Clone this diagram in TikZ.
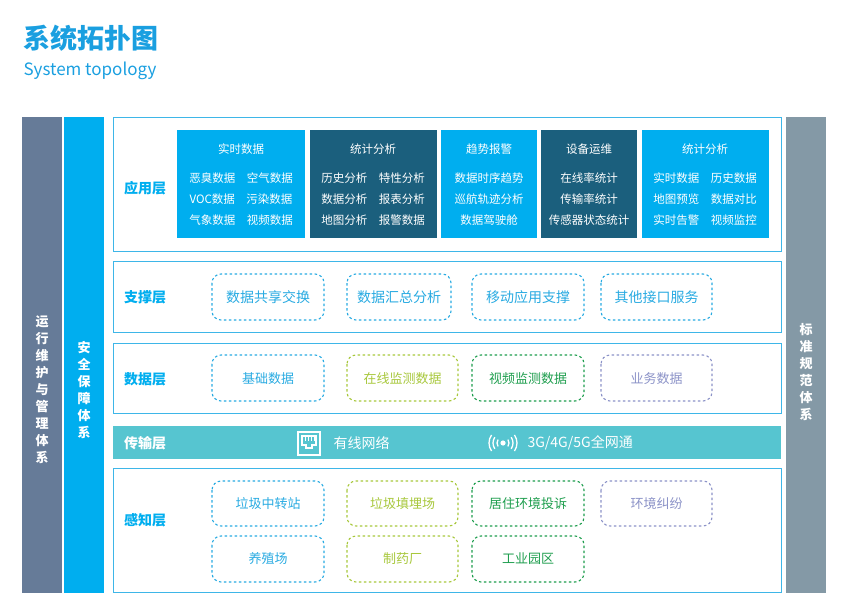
\documentclass[tikz,border=0pt]{standalone}
\usepackage{fontspec}
\setmainfont{Noto Sans CJK SC}
\definecolor{tblue}{HTML}{1A9FE0}
\definecolor{cyanb}{HTML}{00AEEF}
\definecolor{darkb}{HTML}{1B5F7D}
\definecolor{lbar}{HTML}{667B98}
\definecolor{rbar}{HTML}{8499A6}
\definecolor{lborder}{HTML}{3EB6E8}
\definecolor{trans}{HTML}{56C5D0}
\definecolor{cA}{HTML}{29ABE2}
\definecolor{cB}{HTML}{A8C83C}
\definecolor{cC}{HTML}{1E9E4E}
\definecolor{cD}{HTML}{8C93C8}
\tikzset{
  layer/.style={draw=lborder,line width=1pt,fill=white},
  bar/.style={text=white,font=\bfseries\fontsize{13}{17}\selectfont,align=center},
  lbl/.style={text=cyanb,font=\bfseries\fontsize{14}{16}\selectfont},
  appbox/.style={text=white,font=\fontsize{11.5}{21}\selectfont,align=center},
  dbox/.style={draw=#1,text=#1,dashed,dash pattern=on 2.5pt off 2.5pt,line width=1.1pt,rounded corners=9pt,minimum width=#1,font=\fontsize{13}{15}\selectfont},
}
\begin{document}
\begin{tikzpicture}[x=1pt,y=-1pt]
\useasboundingbox (0,0) rectangle (850,615);
\node[anchor=west,text=tblue,font=\bfseries\fontsize{27}{30}\selectfont] (title) at (20,38) {系统拓扑图};
\node[anchor=west,text=tblue,font=\fontsize{17}{20}\selectfont] (sub) at (20,71) {System topology};
% side bars
\fill[lbar] (22,117) rectangle (62,593);
\node[bar] (lb) at (42,390) {运\\行\\维\\护\\与\\管\\理\\体\\系};
\fill[cyanb] (64,117) rectangle (104,593);
\node[bar] (sb) at (84,390) {安\\全\\保\\障\\体\\系};
\fill[rbar] (786,117) rectangle (826,593);
\node[bar] (rb) at (806,372) {标\\准\\规\\范\\体\\系};
% app layer
\draw[layer] (113,117) rectangle (781,251);
\node[lbl] (app) at (145,188) {应用层};
\fill[cyanb] (177,130) rectangle (305,238);
\fill[darkb] (310,130) rectangle (437,238);
\fill[cyanb] (441,130) rectangle (537,238);
\fill[darkb] (541,130) rectangle (637,238);
\fill[cyanb] (642,130) rectangle (769,238);
\node[appbox] (a1) at (241,149) {实时数据};
\node[appbox] (a1r) at (241,199) {恶臭数据\quad 空气数据\\VOC数据\quad 污染数据\\气象数据\quad 视频数据};
\node[appbox] (a2) at (373,149) {统计分析};
\node[appbox] (a2r) at (373,199) {历史分析\quad 特性分析\\数据分析\quad 报表分析\\地图分析\quad 报警数据};
\node[appbox] (a3) at (489,149) {趋势报警};
\node[appbox] (a3r) at (489,199) {数据时序趋势\\巡航轨迹分析\\数据驾驶舱};
\node[appbox] (a4) at (589,149) {设备运维};
\node[appbox] (a4r) at (589,199) {在线率统计\\传输率统计\\传感器状态统计};
\node[appbox] (a5) at (705,149) {统计分析};
\node[appbox] (a5r) at (705,199) {实时数据\quad 历史数据\\地图预览\quad 数据对比\\实时告警\quad 视频监控};
% support layer
\draw[layer] (113,261) rectangle (781,332);
\node[lbl] (sup) at (145,297) {支撑层};
\foreach \xa/\xb/\t/\n in {212/324/数据共享交换/s1,347/451/数据汇总分析/s2,472/584/移动应用支撑/s3,601/712/其他接口服务/s4}{
  \draw[cA,dashed,dash pattern=on 2.5pt off 2.5pt,line width=1.1pt,rounded corners=9pt] (\xa,274) rectangle (\xb,320);
  \node[text=cA,font=\fontsize{14}{16}\selectfont] (\n) at ({(\xa+\xb)/2},297) {\t};
}
% data layer
\draw[layer] (113,343) rectangle (781,413);
\node[lbl] (dat) at (145,379) {数据层};
\foreach \xa/\xb/\t/\c/\n in {212/324/基础数据/cA/d1,347/458/在线监测数据/cB/d2,472/584/视频监测数据/cC/d3,601/712/业务数据/cD/d4}{
  \draw[\c,dashed,dash pattern=on 2.5pt off 2.5pt,line width=1.1pt,rounded corners=9pt] (\xa,355) rectangle (\xb,401);
  \node[text=\c,font=\fontsize{13}{15}\selectfont] (\n) at ({(\xa+\xb)/2},379) {\t};
}
% transmission
\fill[trans] (113,426) rectangle (781,459);
\node[text=white,font=\bfseries\fontsize{14}{16}\selectfont] (tr) at (145,443) {传输层};
\draw[white,line width=1.3pt] (298,432) rectangle (320,455);
\draw[white,line width=1.2pt] (302,436) -- (316,436) -- (316,445) -- (312,445) -- (312,448) -- (306,448) -- (306,445) -- (302,445) -- cycle;
\foreach \xx in {305,308,311,314} \draw[white,line width=0.6pt] (\xx,437) -- (\xx,441);
\node[anchor=west,text=white,font=\fontsize{14}{16}\selectfont] (wired) at (330,443) {有线网络};
\fill[white] (503,443) circle (2.6);
\foreach \r in {6,10,14}{
  \draw[white,line width=1.3pt] (503,443) ++(-35:\r) arc (-35:35:\r);
  \draw[white,line width=1.3pt] (503,443) ++(145:\r) arc (145:215:\r);
}
\node[anchor=west,text=white,font=\fontsize{14}{16}\selectfont] (wl) at (524,443) {3G/4G/5G全网通};
% perception
\draw[layer] (113,468) rectangle (781,592);
\node[lbl] (per) at (145,520) {感知层};
\foreach \xa/\xb/\ya/\yb/\t/\c/\n in {212/324/481/526/垃圾中转站/cA/p1,347/458/481/526/垃圾填埋场/cB/p2,472/584/481/526/居住环境投诉/cC/p3,601/712/481/526/环境纠纷/cD/p4,212/324/536/582/养殖场/cA/p5,347/458/536/582/制药厂/cB/p6,472/584/536/582/工业园区/cC/p7}{
  \draw[\c,dashed,dash pattern=on 2.5pt off 2.5pt,line width=1.1pt,rounded corners=9pt] (\xa,\ya) rectangle (\xb,\yb);
  \node[text=\c,font=\fontsize{13}{15}\selectfont] (\n) at ({(\xa+\xb)/2},{(\ya+\yb)/2}) {\t};
}
\end{tikzpicture}
\end{document}
